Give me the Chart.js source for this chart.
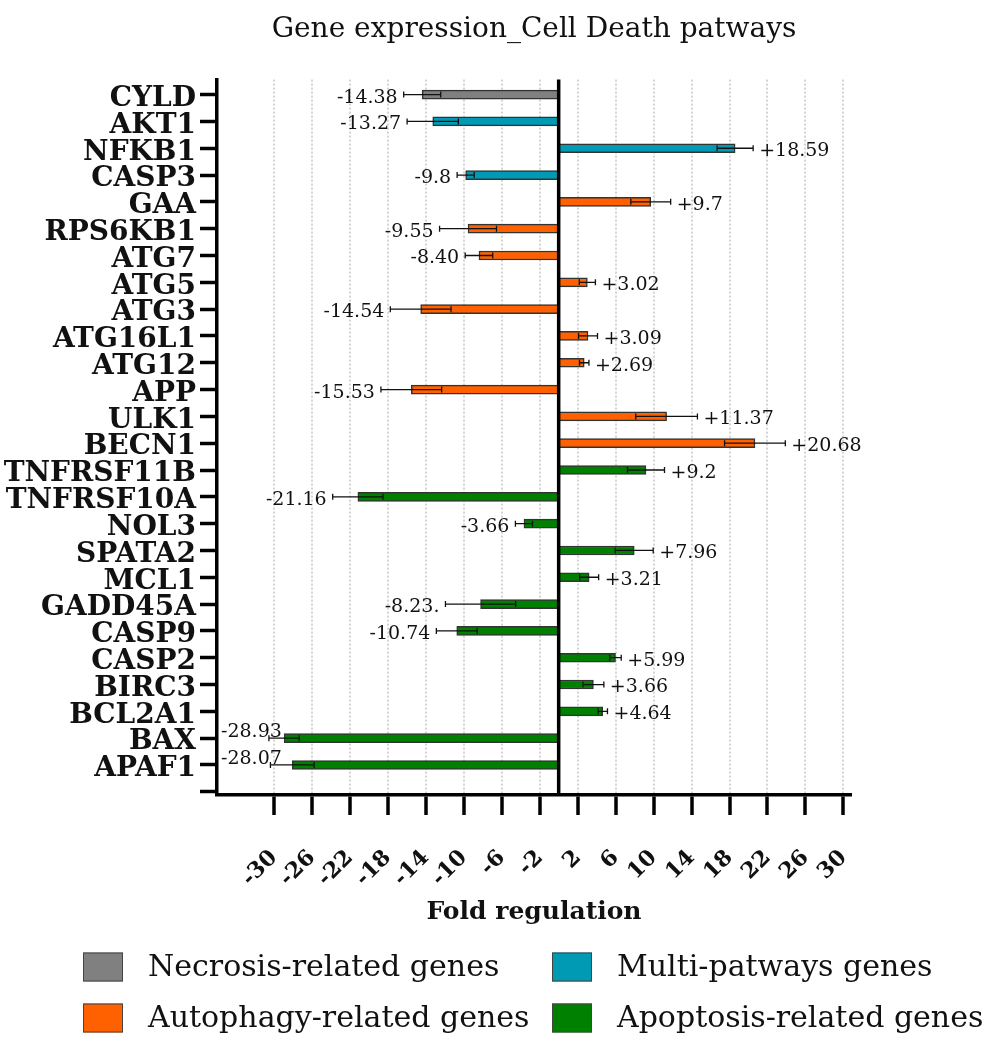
<!DOCTYPE html>
<html>
<head>
<meta charset="utf-8">
<title>Gene expression_Cell Death patways</title>
<script src="https://cdn.jsdelivr.net/npm/chart.js@4.4.1/dist/chart.umd.min.js"></script>
<style>
  html, body { margin: 0; padding: 0; background: #fff; }
  canvas { display: block; }
</style>
</head>
<body>
<canvas id="geneChart" width="999" height="1039"></canvas>
<script>
// genes, top to bottom
const genes = ['CYLD', 'AKT1', 'NFKB1', 'CASP3', 'GAA', 'RPS6KB1', 'ATG7', 'ATG5', 'ATG3',
  'ATG16L1', 'ATG12', 'APP', 'ULK1', 'BECN1', 'TNFRSF11B', 'TNFRSF10A', 'NOL3', 'SPATA2',
  'MCL1', 'GADD45A', 'CASP9', 'CASP2', 'BIRC3', 'BCL2A1', 'BAX', 'APAF1'];
const foldValues = [-14.38, -13.27, 18.59, -9.8, 9.7, -9.55, -8.40, 3.02, -14.54,
  3.09, 2.69, -15.53, 11.37, 20.68, 9.2, -21.16, -3.66, 7.96,
  3.21, -8.23, -10.74, 5.99, 3.66, 4.64, -28.93, -28.07];
const foldErrors = [1.95, 2.7, 1.9, 0.9, 2.1, 3.0, 1.45, 0.85, 3.2,
  1.0, 0.5, 3.2, 3.25, 3.2, 1.95, 2.65, 0.9, 2.0,
  1.0, 3.7, 2.15, 0.6, 1.1, 0.5, 1.6, 2.3];
const valueLabels = ['-14.38', '-13.27', '+18.59', '-9.8', '+9.7', '-9.55', '-8.40', '+3.02', '-14.54',
  '+3.09', '+2.69', '-15.53', '+11.37', '+20.68', '+9.2', '-21.16', '-3.66', '+7.96',
  '+3.21', '-8.23.', '-10.74', '+5.99', '+3.66', '+4.64', '-28.93', '-28.07'];
// 0 necrosis, 1 multi, 2 autophagy, 3 apoptosis
const geneGroup = [0, 1, 1, 1, 2, 2, 2, 2, 2, 2, 2, 2, 2, 2, 3, 3, 3, 3, 3, 3, 3, 3, 3, 3, 3, 3];
const groupNames = ['Necrosis-related genes', 'Multi-patways genes', 'Autophagy-related genes', 'Apoptosis-related genes'];
const groupColors = ['#808080', '#009ab5', '#ff6000', '#008000'];
const xTickValues = [-30, -26, -22, -18, -14, -10, -6, -2, 2, 6, 10, 14, 18, 22, 26, 30];
const yTickValues = genes.map((g, i) => i).concat([genes.length]);

const SERIF = '"DejaVu Serif", "Liberation Serif", serif';

const datasets = groupNames.map((name, g) => ({
  label: name,
  data: genes
    .map((gene, i) => ({ x: foldValues[i], y: i, err: foldErrors[i], txt: valueLabels[i] }))
    .filter((d, i) => geneGroup[i] === g),
  backgroundColor: groupColors[g],
  borderColor: '#333',
  borderWidth: 1.5,
  borderSkipped: false,
  barThickness: 9,
  grouped: false
}));

// zero line, error bars and value labels
const barExtras = {
  id: 'barExtras',
  afterDatasetsDraw(chart) {
    const { ctx, chartArea, scales: { x } } = chart;
    ctx.save();
    const x0 = x.getPixelForValue(0);
    ctx.strokeStyle = '#000';
    ctx.lineWidth = 3.5;
    ctx.beginPath();
    ctx.moveTo(x0, chartArea.top);
    ctx.lineTo(x0, chartArea.bottom);
    ctx.stroke();

    ctx.font = '19px ' + SERIF;
    ctx.textBaseline = 'middle';
    chart.data.datasets.forEach((ds, di) => {
      chart.getDatasetMeta(di).data.forEach((bar, j) => {
        const d = ds.data[j];
        const lo = x.getPixelForValue(d.x - d.err);
        const hi = x.getPixelForValue(d.x + d.err);
        const y = bar.y;
        ctx.strokeStyle = '#111';
        ctx.lineWidth = 1.3;
        ctx.beginPath();
        ctx.moveTo(lo, y); ctx.lineTo(hi, y);
        ctx.moveTo(lo, y - 3); ctx.lineTo(lo, y + 3);
        ctx.moveTo(hi, y - 3); ctx.lineTo(hi, y + 3);
        ctx.stroke();

        ctx.fillStyle = '#111';
        const w = ctx.measureText(d.txt).width;
        if (d.x < 0) {
          const right = lo - 6;
          if (right - w < chartArea.left + 3) {
            ctx.textAlign = 'left';
            ctx.fillText(d.txt, chartArea.left + 4, y - 6);
          } else {
            ctx.textAlign = 'right';
            ctx.fillText(d.txt, right, y + 3);
          }
        } else {
          ctx.textAlign = 'left';
          ctx.fillText(d.txt, hi + 6, y + 3);
        }
      });
    });
    ctx.restore();
  }
};

// two-column legend under the axis title
const gridLegend = {
  id: 'gridLegend',
  afterDraw(chart) {
    const { ctx } = chart;
    const colX = [83, 552];
    const rowY = [967, 1018];
    ctx.save();
    ctx.font = '30px ' + SERIF;
    ctx.textBaseline = 'middle';
    ctx.textAlign = 'left';
    chart.data.datasets.forEach((ds, i) => {
      const bx = colX[i % 2];
      const by = rowY[Math.floor(i / 2)];
      ctx.fillStyle = ds.backgroundColor;
      ctx.fillRect(bx, by - 14.5, 40, 29);
      ctx.strokeStyle = '#444';
      ctx.lineWidth = 1;
      ctx.strokeRect(bx + 0.5, by - 14, 39, 28);
      ctx.fillStyle = '#111';
      ctx.fillText(ds.label, bx + 65, by + 1);
    });
    ctx.restore();
  }
};

new Chart(document.getElementById('geneChart'), {
  type: 'bar',
  data: { datasets },
  plugins: [barExtras, gridLegend],
  options: {
    responsive: false,
    animation: false,
    indexAxis: 'y',
    layout: { padding: { left: 0, right: 148, top: 0, bottom: 105 } },
    plugins: {
      legend: { display: false },
      tooltip: { enabled: false },
      title: {
        display: true,
        fullSize: false,
        text: 'Gene expression_Cell Death patways',
        color: '#111',
        font: { family: SERIF, size: 28, weight: 'normal' },
        padding: { top: 13, bottom: 33 }
      }
    },
    scales: {
      x: {
        type: 'linear',
        min: -36,
        max: 30.8,
        afterBuildTicks: (scale) => { scale.ticks = xTickValues.map(v => ({ value: v })); },
        afterFit: (scale) => { scale.height = 139; },
        ticks: {
          color: '#111',
          font: { family: SERIF, size: 22, weight: 'bold' },
          minRotation: 45,
          maxRotation: 45,
          autoSkip: false,
          padding: 30,
          callback: (v) => String(v)
        },
        grid: {
          color: '#d2d2d2',
          lineWidth: 2,
          drawOnChartArea: true,
          tickLength: 20,
          tickColor: '#000',
          tickWidth: 3.5
        },
        border: { display: true, color: '#000', width: 3.5, dash: [2, 2] },
        title: {
          display: true,
          text: 'Fold regulation',
          color: '#111',
          font: { family: SERIF, size: 25, weight: 'bold' },
          padding: { top: 0, bottom: 7 }
        }
      },
      y: {
        type: 'linear',
        reverse: true,
        offset: false,
        min: -0.56,
        max: 26.12,
        afterBuildTicks: (scale) => { scale.ticks = yTickValues.map(v => ({ value: v })); },
        afterFit: (scale) => { scale.width = 217; },
        ticks: {
          color: '#111',
          font: { family: SERIF, size: 28, weight: 'bold' },
          padding: 4,
          labelOffset: 4,
          autoSkip: false,
          callback: (v) => genes[v] || ''
        },
        grid: {
          offset: false,
          drawOnChartArea: false,
          tickLength: 17,
          tickColor: '#000',
          tickWidth: 3.5
        },
        border: { display: true, color: '#000', width: 3.5 }
      }
    }
  }
});
</script>
</body>
</html>
